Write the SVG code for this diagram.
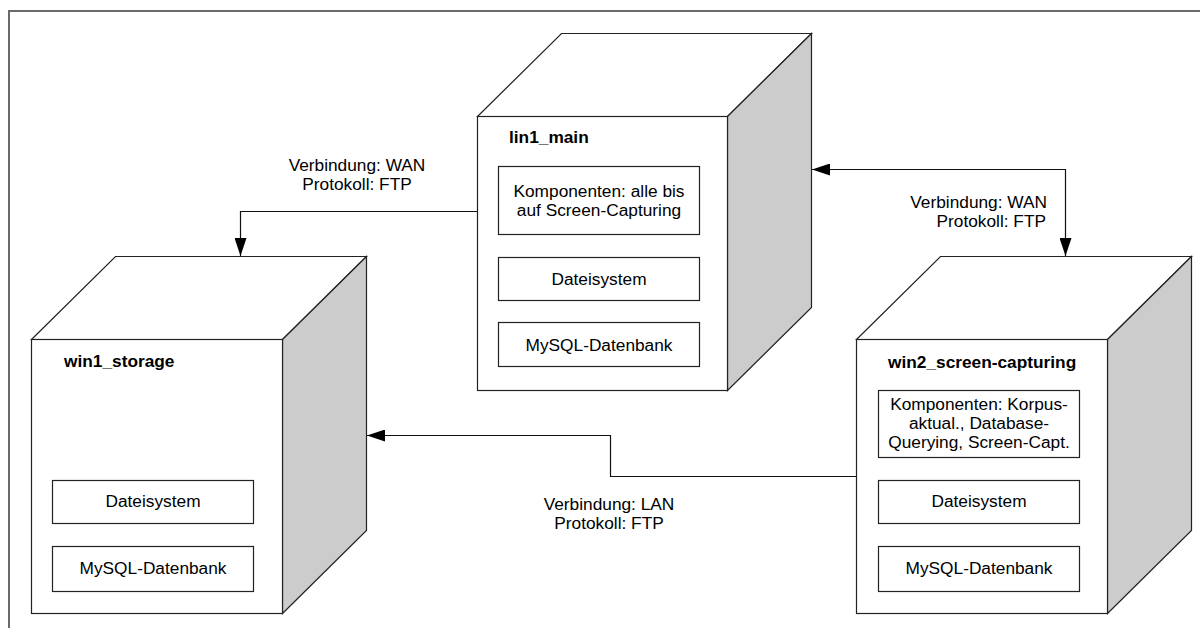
<svg xmlns="http://www.w3.org/2000/svg" width="1200" height="628" viewBox="0 0 1200 628">
<style>
text{font-family:"Liberation Sans",Arial,sans-serif;font-size:17.3px;fill:#000}
.b{font-weight:bold}
.c{text-anchor:middle}
.e{text-anchor:end}
.front,.box,.top{fill:#fff;stroke:#222;stroke-width:1.2}
.side{fill:#cccccc;stroke:#222;stroke-width:1.2}
.conn{fill:none;stroke:#111;stroke-width:1.2}
</style>
<defs>
<marker id="arr" markerUnits="userSpaceOnUse" markerWidth="18" markerHeight="12" refX="18" refY="6" orient="auto-start-reverse" viewBox="0 0 18 12">
<path d="M0,0 L18,6 L0,12 z" fill="#000"/>
</marker>
</defs>
<rect width="1200" height="628" fill="#fff"/>
<rect x="9" y="11" width="1220" height="650" fill="none" stroke="#6a6a6a" stroke-width="2"/>

<g id="lin1_main">
<polygon class="top" points="477.5,116.5 561.5,33.5 811.5,33.5 727.5,116.5"/>
<polygon class="side" points="727.5,116.5 811.5,33.5 811.5,307.5 727.5,390.5"/>
<rect class="front" x="477.5" y="116.5" width="250" height="274"/>
<text class="b" x="509" y="143">lin1_main</text>
<rect class="box" x="498.5" y="166.5" width="201" height="68"/>
<text class="c" x="599" y="197">Komponenten: alle bis</text>
<text class="c" x="599" y="215.5">auf Screen-Capturing</text>
<rect class="box" x="498.5" y="257.5" width="201" height="43"/>
<text class="c" x="599" y="284.5">Dateisystem</text>
<rect class="box" x="498.5" y="322.5" width="201" height="44"/>
<text class="c" x="599" y="350.5">MySQL-Datenbank</text>
</g>

<g id="win1_storage">
<polygon class="top" points="31.5,339.5 115.5,256.5 366.5,256.5 282.5,339.5"/>
<polygon class="side" points="282.5,339.5 366.5,256.5 366.5,530.5 282.5,613.5"/>
<rect class="front" x="31.5" y="339.5" width="251" height="274"/>
<text class="b" x="64" y="367">win1_storage</text>
<rect class="box" x="52.5" y="480.5" width="201" height="43"/>
<text class="c" x="153" y="507">Dateisystem</text>
<rect class="box" x="52.5" y="546.5" width="201" height="45"/>
<text class="c" x="153" y="573.5">MySQL-Datenbank</text>
</g>

<g id="win2_screen-capturing">
<polygon class="top" points="856.5,339.5 940.5,256.5 1191.5,256.5 1107.5,339.5"/>
<polygon class="side" points="1107.5,339.5 1191.5,256.5 1191.5,530.5 1107.5,613.5"/>
<rect class="front" x="856.5" y="339.5" width="251" height="274"/>
<text class="b" x="888" y="368">win2_screen-capturing</text>
<rect class="box" x="878.5" y="390.5" width="201" height="67"/>
<text class="c" x="979" y="410">Komponenten: Korpus-</text>
<text class="c" x="979" y="429">aktual., Database-</text>
<text class="c" x="979" y="448">Querying, Screen-Capt.</text>
<rect class="box" x="878.5" y="480.5" width="201" height="43"/>
<text class="c" x="979" y="507">Dateisystem</text>
<rect class="box" x="878.5" y="546.5" width="201" height="45"/>
<text class="c" x="979" y="573.5">MySQL-Datenbank</text>
</g>

<g id="connectors">
<path class="conn" d="M477,211.5 H240.5 V256" marker-end="url(#arr)"/>
<path class="conn" d="M812,169.5 H1065.5 V256" marker-start="url(#arr)" marker-end="url(#arr)"/>
<path class="conn" d="M856,476.5 H610.5 V435.5 H367" marker-end="url(#arr)"/>
<text class="c" x="357" y="171">Verbindung: WAN</text>
<text class="c" x="357" y="190">Protokoll: FTP</text>
<text class="e" x="1047" y="208">Verbindung: WAN</text>
<text class="e" x="1046" y="227">Protokoll: FTP</text>
<text class="c" x="609" y="510">Verbindung: LAN</text>
<text class="c" x="609" y="529">Protokoll: FTP</text>
</g>
</svg>
